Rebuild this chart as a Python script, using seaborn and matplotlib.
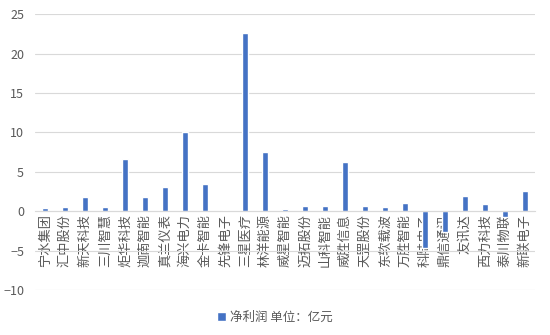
import matplotlib
matplotlib.use("Agg")
import matplotlib.pyplot as plt
import seaborn as sns
import pandas as pd

companies = ["宁水集团", "汇中股份", "新天科技", "三川智慧", "炬华科技", "迦南智能", "真兰仪表",
             "海兴电力", "金卡智能", "先锋电子", "三星医疗", "林洋能源", "威星智能", "迈拓股份",
             "山科智能", "威胜信息", "天罡股份", "东软载波", "万胜智能", "科陆电子", "鼎信通讯",
             "友讯达", "西力科技", "泰川物联", "新联电子"]
net_profit = [0.4, 0.5, 1.8, 0.5, 6.6, 1.8, 3.1, 10.0, 3.5, 0.15, 22.6, 7.5, 0.25, 0.65,
              0.65, 6.25, 0.65, 0.5, 1.0, -4.7, -2.6, 1.9, 0.9, -0.7, 2.55]
series_name = "净利润 单位：亿元"
y_ticks = [-10, -5, 0, 5, 10, 15, 20, 25]

sns.set_theme(style="white")
plt.rcParams["font.family"] = ["Noto Sans CJK SC", "DejaVu Sans"]

df = pd.DataFrame({"company": companies, "profit": net_profit})

fig = plt.figure(figsize=(5.5, 3.35), dpi=100)
ax = fig.add_axes([0.064, 0.134, 0.909, 0.824])

sns.barplot(data=df, x="company", y="profit", color="#4472C4", width=0.32,
            saturation=1, ax=ax, label=series_name)

ax.set_ylim(-10, 25)
ax.set_xlim(-0.5, len(companies) - 0.5)
ax.set_yticks(y_ticks)
ax.yaxis.grid(True, color="#D9D9D9", linewidth=0.8)
ax.set_axisbelow(True)
for s in ["top", "right", "left"]:
    ax.spines[s].set_visible(False)
ax.spines["bottom"].set_position(("data", 0))
ax.spines["bottom"].set_color("#D9D9D9")
ax.spines["bottom"].set_linewidth(0.8)
ax.set_xlabel("")
ax.set_ylabel("")
ax.tick_params(axis="y", length=0, labelsize=9, colors="#595959", pad=8)
ax.tick_params(axis="x", length=0, labelsize=9.5, colors="#595959", pad=2)
plt.setp(ax.get_xticklabels(), rotation=90, va="top", ha="center")

if ax.legend_:
    ax.legend_.remove()
h, l = ax.get_legend_handles_labels()
fig.legend(h[:1], [series_name], loc="center", bbox_to_anchor=(0.5, 0.053), frameon=False,
           fontsize=9, handlelength=0.7, handleheight=0.7, handletextpad=0.4,
           labelcolor="#595959")

fig.savefig("out.png", dpi=100)
